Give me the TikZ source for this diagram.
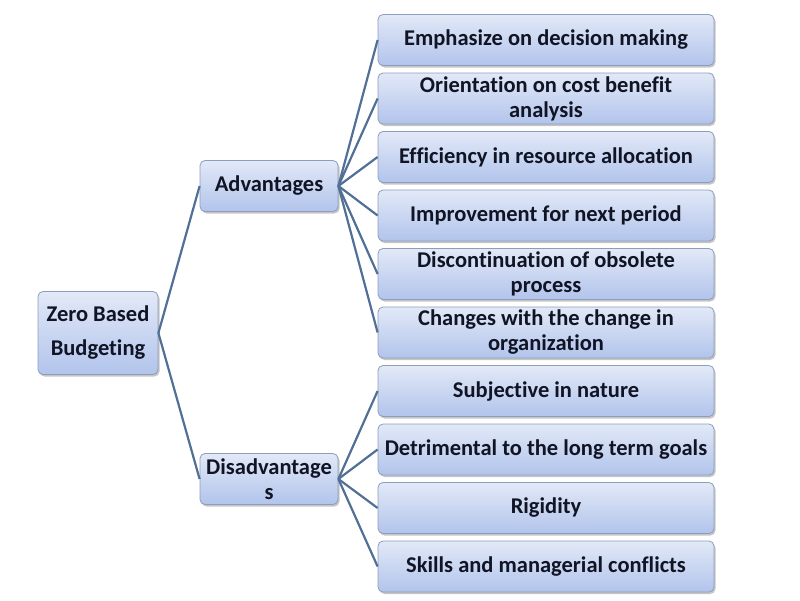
\documentclass[tikz,border=0pt]{standalone}
\usepackage{fontspec}
\setmainfont[Ligatures=NoCommon]{Carlito}
\usetikzlibrary{shadows,positioning}
\definecolor{boxtop}{RGB}{226,233,247}
\definecolor{boxbot}{RGB}{178,196,236}
\definecolor{boxrim}{RGB}{140,158,188}
\definecolor{linkcol}{RGB}{82,112,150}
\definecolor{txtcol}{RGB}{16,20,36}

\tikzset{
	box/.style={draw=boxrim, line width=0.8pt, rounded corners=5pt,
		top color=boxtop, bottom color=boxbot,
		drop shadow={shadow xshift=1.5pt, shadow yshift=-2pt, fill=black!45, opacity=0.5},
		align=center, text=txtcol, font=\fontsize{22.5}{25}\selectfont\bfseries,
		inner sep=1pt},
	leaf/.style={box, minimum width=336pt, minimum height=51pt},
	mid/.style={box, minimum width=138pt, minimum height=51pt},
	link/.style={draw=linkcol, line width=2.2pt}
}

\begin{document}
\begin{tikzpicture}[x=1pt,y=-1pt]
	\useasboundingbox (0,0) rectangle (800,600);
	
	\node[box, minimum width=120pt, minimum height=83pt] (zbb) at (98,333) {Zero Based\\[9pt]Budgeting};
	\node[mid] (adv) at (269,186) {Advantages};
	\node[mid] (dis) at (269,479) {Disadvantage\\s};
	
	\node[leaf] (a1) at (546,40) {Emphasize on decision making};
	\node[leaf] (a2) at (546,98.5) {Orientation on cost benefit\\analysis};
	\node[leaf] (a3) at (546,157) {Efficiency in resource allocation};
	\node[leaf] (a4) at (546,215.5) {Improvement for next period};
	\node[leaf] (a5) at (546,274) {Discontinuation of obsolete\\process};
	\node[leaf] (a6) at (546,332.5) {Changes with the change in\\organization};
	\node[leaf] (d1) at (546,391) {Subjective in nature};
	\node[leaf] (d2) at (546,449.5) {Detrimental to the long term goals};
	\node[leaf] (d3) at (546,508) {Rigidity};
	\node[leaf] (d4) at (546,566.5) {Skills and managerial conflicts};
	
	\draw[link] (zbb.east) -- (adv.west);
	\draw[link] (zbb.east) -- (dis.west);
	\foreach \n in {a1,a2,a3,a4,a5,a6}
		\draw[link] (adv.east) -- (\n.west);
	\foreach \n in {d1,d2,d3,d4}
		\draw[link] (dis.east) -- (\n.west);
	
\end{tikzpicture}
\end{document}
